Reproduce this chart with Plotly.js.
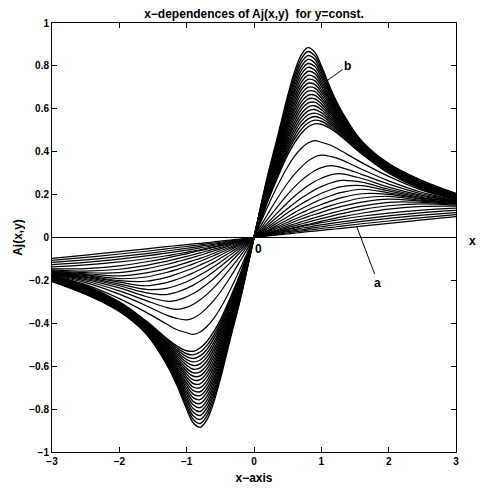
<!DOCTYPE html>
<html>
<head>
<meta charset="utf-8">
<script src="https://cdn.plot.ly/plotly-3.0.1.min.js"></script>
<style>html,body{margin:0;padding:0;background:#fff;}#chart{width:480px;height:490px;}</style>
</head>
<body>
<div id="chart"></div>
<script>
// x positions (right half; the left half of the figure is the odd mirror image)
const xPos = [0, 0.1, 0.2, 0.35, 0.5, 0.6, 0.7, 0.8, 0.9, 1.0, 1.15, 1.3, 1.6, 2.0, 2.5, 3.0];

// outermost curve "b"
const curveB = [0,.145,.285,.47,.66,.77,.85,.885,.865,.80,.685,.59,.45,.345,.265,.205];

// densely packed curves just inside "b"
const denseCurves = [
  [0,.142,.279,.461,.646,.754,.832,.867,.848,.786,.676,.584,.447,.343,.263,.204],
  [0,.139,.273,.451,.633,.737,.814,.848,.832,.773,.667,.578,.444,.341,.261,.203],
  [0,.135,.267,.442,.619,.721,.795,.830,.815,.759,.658,.572,.441,.338,.259,.201],
  [0,.132,.261,.432,.605,.704,.777,.811,.798,.746,.649,.566,.438,.336,.257,.200],
  [0,.129,.255,.423,.591,.688,.759,.793,.781,.732,.640,.560,.435,.334,.255,.199],
  [0,.126,.249,.413,.578,.671,.741,.774,.765,.718,.631,.554,.432,.332,.253,.198],
  [0,.122,.243,.404,.564,.655,.722,.756,.748,.705,.622,.548,.429,.329,.251,.196],
  [0,.119,.237,.394,.550,.638,.704,.737,.731,.691,.613,.542,.426,.327,.249,.195],
  [0,.116,.231,.385,.536,.622,.686,.719,.714,.678,.604,.536,.423,.325,.247,.194],
  [0,.113,.225,.375,.523,.605,.668,.700,.698,.664,.595,.530,.420,.323,.245,.193],
  [0,.109,.219,.366,.509,.589,.649,.682,.681,.650,.586,.524,.417,.320,.243,.191],
  [0,.106,.213,.356,.495,.572,.631,.663,.664,.637,.577,.518,.414,.318,.241,.190],
  [0,.103,.207,.347,.481,.556,.613,.645,.647,.623,.568,.512,.411,.316,.239,.189],
  [0,.100,.201,.337,.468,.539,.595,.626,.631,.610,.559,.506,.408,.314,.237,.188],
  [0,.096,.195,.328,.454,.523,.576,.608,.614,.596,.550,.500,.405,.311,.235,.186],
  [0,.093,.189,.318,.440,.506,.558,.589,.597,.582,.541,.494,.402,.309,.233,.185],
  [0,.090,.183,.309,.426,.490,.540,.571,.580,.569,.532,.488,.399,.307,.231,.184],
  [0,.087,.177,.299,.413,.473,.522,.552,.564,.555,.523,.482,.396,.305,.229,.183],
  [0,.083,.171,.290,.399,.457,.503,.534,.547,.542,.514,.476,.393,.302,.227,.181],
  [0,.080,.165,.280,.385,.440,.485,.515,.530,.528,.505,.470,.390,.300,.225,.180]
];

// widely spaced curves between the dense pack and "a"
const sparseCurves = [
  [0,.071,.142,.242,.330,.378,.415,.441,.452,.444,.429,.403,.349,.285,.220,.178],
  [0,.054,.107,.184,.254,.294,.328,.356,.375,.384,.377,.362,.318,.264,.210,.176],
  [0,.042,.084,.144,.201,.235,.265,.290,.311,.326,.335,.326,.294,.249,.203,.174],
  [0,.034,.067,.116,.163,.192,.218,.241,.261,.276,.293,.297,.275,.235,.196,.172],
  [0,.028,.056,.097,.135,.160,.183,.203,.222,.237,.255,.266,.258,.225,.191,.170],
  [0,.023,.047,.081,.115,.136,.156,.174,.191,.206,.224,.237,.242,.217,.186,.168],
  [0,.020,.040,.069,.097,.116,.133,.149,.164,.178,.196,.210,.225,.208,.182,.166],
  [0,.017,.033,.058,.083,.099,.114,.128,.142,.154,.171,.186,.204,.201,.178,.164],
  [0,.014,.029,.050,.071,.085,.098,.111,.123,.134,.150,.163,.184,.192,.173,.161],
  [0,.012,.025,.044,.062,.074,.086,.097,.107,.117,.132,.145,.165,.179,.169,.158],
  [0,.011,.021,.037,.053,.063,.073,.083,.092,.101,.114,.126,.146,.164,.164,.155],
  [0,.009,.018,.032,.046,.054,.063,.072,.080,.088,.100,.111,.130,.148,.157,.151],
  [0,.008,.016,.027,.039,.046,.054,.061,.068,.076,.086,.096,.113,.132,.145,.146],
  [0,.008,.016,.027,.037,.044,.050,.057,.063,.069,.077,.085,.099,.114,.128,.137],
  [0,.007,.013,.022,.032,.037,.043,.048,.054,.059,.066,.073,.086,.101,.116,.126],
  [0,.006,.011,.019,.027,.032,.036,.041,.046,.050,.057,.063,.075,.089,.104,.116],
  [0,.004,.009,.015,.022,.026,.030,.034,.038,.042,.047,.053,.064,.077,.093,.107]
];

// innermost, almost straight curve "a"
const curveA = [0,.003,.007,.012,.017,.020,.024,.027,.030,.033,.038,.043,.053,.066,.082,.097];

const xTicks = [-3, -2, -1, 0, 1, 2, 3];
const xTickLabels = ['\u22123', '\u22122', '\u22121', '0', '1', '2', '3'];
const yTicks = [-1, -0.8, -0.6, -0.4, -0.2, 0, 0.2, 0.4, 0.6, 0.8, 1];
const yTickLabels = ['\u22121', '\u22120.8', '\u22120.6', '\u22120.4', '\u22120.2', '0', '0.2', '0.4', '0.6', '0.8', '1'];

const FONT = 'Liberation Sans, Arial, sans-serif';
function f(size) { return {family: FONT, size: size, color: '#000', weight: 'bold'}; }

const allCurves = [curveB].concat(denseCurves, sparseCurves, [curveA]);
const traces = [];
allCurves.forEach(function (ys, i) {
  const w = (i <= denseCurves.length) ? 1.4 : 1.2;
  // right half on the normal axes
  traces.push({x: xPos, y: ys, xaxis: 'x', yaxis: 'y', mode: 'lines',
    line: {color: '#000', width: w, shape: 'spline', smoothing: 1}, hoverinfo: 'skip'});
  // left half: same values drawn on reversed overlay axes (odd symmetry of the figure)
  traces.push({x: xPos, y: ys, xaxis: 'x2', yaxis: 'y2', mode: 'lines',
    line: {color: '#000', width: w, shape: 'spline', smoothing: 1}, hoverinfo: 'skip'});
});

const layout = {
  width: 480, height: 490,
  margin: {l: 52, r: 24, t: 23, b: 38},
  paper_bgcolor: '#fff', plot_bgcolor: '#fff',
  showlegend: false, hovermode: false,
  font: f(11),
  title: {text: 'x\u2212dependences of Aj(x,y)  for y=const.', font: f(12),
          xref: 'paper', x: 0.5, xanchor: 'center', y: 0.972, yanchor: 'middle'},
  xaxis: {range: [-3, 3], tickvals: xTicks, ticktext: xTickLabels, ticks: 'inside', ticklen: 5,
          tickcolor: '#000', showline: true, mirror: 'ticks', linecolor: '#000', linewidth: 1,
          showgrid: false, zeroline: false, tickfont: f(10),
          title: {text: 'x\u2212axis', font: f(12), standoff: 7}},
  yaxis: {range: [-1, 1], tickvals: yTicks, ticktext: yTickLabels, ticks: 'inside', ticklen: 5,
          tickcolor: '#000', showline: true, mirror: 'ticks', linecolor: '#000', linewidth: 1,
          showgrid: false, zeroline: true, zerolinecolor: '#000', zerolinewidth: 1,
          tickfont: f(10),
          title: {text: 'Aj(x,y)', font: f(12), standoff: 4}},
  xaxis2: {overlaying: 'x', range: [3, -3], visible: false, anchor: 'y2'},
  yaxis2: {overlaying: 'y', range: [1, -1], visible: false, anchor: 'x2'},
  annotations: [
    {x: 1.08, y: 0.73, ax: 1.39, ay: 0.80, axref: 'x', ayref: 'y', xref: 'x', yref: 'y',
     text: 'b', showarrow: true, arrowhead: 0, arrowwidth: 1, arrowcolor: '#000', font: f(12)},
    {x: 1.52, y: 0.055, ax: 1.84, ay: -0.21, axref: 'x', ayref: 'y', xref: 'x', yref: 'y',
     text: 'a', showarrow: true, arrowhead: 0, arrowwidth: 1, arrowcolor: '#000', font: f(12)},
    {x: 0.06, y: -0.055, xref: 'x', yref: 'y', text: '0', showarrow: false, font: f(12)},
    {x: 1.042, y: -0.015, xref: 'paper', yref: 'y', xanchor: 'center', text: 'x',
     showarrow: false, font: f(12)}
  ]
};

Plotly.newPlot('chart', traces, layout, {displayModeBar: false, staticPlot: true});
</script>
</body>
</html>
